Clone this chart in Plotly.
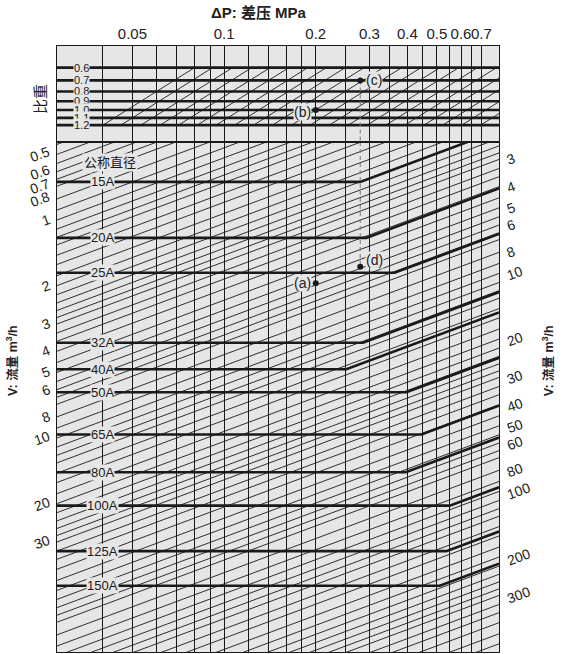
import math
import plotly.graph_objects as go

# ---------------- data ----------------
dp_grid = [0.04, 0.05, 0.06, 0.07, 0.08, 0.09, 0.1, 0.12, 0.14, 0.16, 0.18, 0.2,
           0.25, 0.3, 0.35, 0.4, 0.45, 0.5, 0.55, 0.6, 0.65, 0.7]
dp_tick_text = ["", "0.05", "", "", "", "", "0.1", "", "", "", "", "0.2",
                "", "0.3", "", "0.4", "", "0.5", "", "0.6", "", "0.7"]

sg_values = [0.6, 0.7, 0.8, 0.9, 1.0, 1.1, 1.2]
sg_text = ["0.6", "0.7", "0.8", "0.9", "1.0", "1.1", "1.2"]

# ΔP·SG products of the hatch lines in the specific-gravity panel
hatch_products = [0.048, 0.055, 0.064, 0.074, 0.085, 0.098, 0.113, 0.13, 0.15, 0.173,
                  0.2, 0.23, 0.266, 0.307, 0.354, 0.408, 0.471, 0.544, 0.627, 0.724,
                  0.835, 0.964]

pipe_names = ["15A", "20A", "25A", "32A", "40A", "50A", "65A", "80A", "100A", "125A", "150A"]
pipe_flow_ref = [1.29, 2.33, 3.37, 7.05, 9.33, 11.9, 18.6, 27.7, 39.4, 63.7, 91.8]   # m3/h at 0.1 MPa
pipe_bend_dp = [0.28, 0.293, 0.363, 0.286, 0.252, 0.397, 0.445, 0.395, 0.551, 0.537, 0.511]

flow_mantissa = [1.0, 1.1, 1.2, 1.3, 1.45, 1.6, 1.8, 2.0, 2.2, 2.4, 2.6, 2.8, 3.0,
                 3.3, 3.6, 4.0, 4.5, 5.0, 5.5, 6.0, 6.5, 7.0, 8.0, 9.0]
flow_decades = [0.1, 1, 10, 100]

flow_left_ticks = [0.5, 0.6, 0.7, 0.8, 1, 2, 3, 4, 5, 6, 8, 10, 20, 30]
flow_right_ticks = [3, 4, 5, 6, 8, 10, 20, 30, 40, 50, 60, 80, 100, 200, 300]

ex_flow = 5.4
ex_dp_ab = 0.2
ex_dp_cd = 0.28
ex_sg_b = 1.0
ex_sg_c = 0.7

# ---------------- scales ----------------
DP_REF = 0.1
EXP = 0.52
X_RANGE = [-1.5487, -0.0971]
Y_LOW_RANGE = [2.267, -0.0725]
Y_UP_RANGE = [0.1675, -0.3351]
dp_min, dp_max = 10 ** X_RANGE[0], 10 ** X_RANGE[1]


def q_of(v, dp):
    return v * (DP_REF / dp) ** EXP


BG = "#e6e6e6"
FONT = "Liberation Sans, Arial, Noto Sans CJK SC"
INK = "#1a1a1a"

fig = go.Figure()

# iso-flow lines
flow_lines = [m * d for d in flow_decades for m in flow_mantissa]
xs, ys = [], []
for v in flow_lines:
    xs += [dp_min, dp_max, None]
    ys += [q_of(v, dp_min), q_of(v, dp_max), None]
fig.add_trace(go.Scatter(x=xs, y=ys, mode="lines", line=dict(color=INK, width=0.9),
                         xaxis="x", yaxis="y", hoverinfo="skip", showlegend=False))

# pipe-size lines
xs, ys = [], []
for qp, bd in zip(pipe_flow_ref, pipe_bend_dp):
    xs += [dp_min, bd, dp_max, None]
    ys += [qp, qp, qp * (bd / dp_max) ** EXP, None]
fig.add_trace(go.Scatter(x=xs, y=ys, mode="lines", line=dict(color=INK, width=2.6),
                         xaxis="x", yaxis="y", hoverinfo="skip", showlegend=False))

# hatch lines in SG panel
xs, ys = [], []
for c in hatch_products:
    xs += [c / max(sg_values), c / min(sg_values), None]
    ys += [max(sg_values), min(sg_values), None]
fig.add_trace(go.Scatter(x=xs, y=ys, mode="lines", line=dict(color=INK, width=0.9),
                         xaxis="x2", yaxis="y2", hoverinfo="skip", showlegend=False))

# SG lines
xs, ys = [], []
for sg in sg_values:
    xs += [dp_min, dp_max, None]
    ys += [sg, sg, None]
fig.add_trace(go.Scatter(x=xs, y=ys, mode="lines", line=dict(color=INK, width=2.6),
                         xaxis="x2", yaxis="y2", hoverinfo="skip", showlegend=False))

# dashed connector (c) -> (d)
fig.add_trace(go.Scatter(x=[ex_dp_cd, ex_dp_cd], y=[ex_sg_c, 10 ** Y_UP_RANGE[0]], mode="lines",
                         line=dict(color="#777", width=1, dash="4px,3px"),
                         xaxis="x2", yaxis="y2", hoverinfo="skip", showlegend=False))
fig.add_trace(go.Scatter(x=[ex_dp_cd, ex_dp_cd], y=[10 ** Y_LOW_RANGE[1], q_of(ex_flow, ex_dp_cd)],
                         mode="lines", line=dict(color="#777", width=1, dash="4px,3px"),
                         xaxis="x", yaxis="y", hoverinfo="skip", showlegend=False))

# example points
fig.add_trace(go.Scatter(x=[ex_dp_ab, ex_dp_cd], y=[q_of(ex_flow, ex_dp_ab), q_of(ex_flow, ex_dp_cd)],
                         mode="markers", marker=dict(color=INK, size=6),
                         xaxis="x", yaxis="y", hoverinfo="skip", showlegend=False))
fig.add_trace(go.Scatter(x=[ex_dp_ab, ex_dp_cd], y=[ex_sg_b, ex_sg_c],
                         mode="markers", marker=dict(color=INK, size=6),
                         xaxis="x2", yaxis="y2", hoverinfo="skip", showlegend=False))

ann = []
L = math.log10

# pipe labels
for name, qp in zip(pipe_names, pipe_flow_ref):
    ann.append(dict(x=L(0.04), y=L(qp), xref="x", yref="y", text=name, showarrow=False,
                    xanchor="center", yanchor="middle",
                    font=dict(family=FONT, size=13, color=INK), bgcolor=BG, borderpad=0))
ann.append(dict(x=L(0.0421), y=L(1.053), xref="x", yref="y", text="公称直径", showarrow=False,
                xanchor="center", yanchor="middle",
                font=dict(family=FONT, size=13, color=INK), bgcolor=BG, borderpad=1))

# SG labels
for sg, t in zip(sg_values, sg_text):
    ann.append(dict(x=L(0.034), y=L(sg), xref="x2", yref="y2", text=t, showarrow=False,
                    xanchor="center", yanchor="middle",
                    font=dict(family=FONT, size=11, color=INK), bgcolor=BG, borderpad=0))

# flow labels left / right
for v in flow_left_ticks:
    ann.append(dict(x=X_RANGE[0], y=L(q_of(v, dp_min)), xref="x", yref="y", text=f"{v:g}",
                    showarrow=False, xanchor="right", yanchor="middle", xshift=-2, textangle=-20,
                    font=dict(family=FONT, size=14, color="#222")))
for v in flow_right_ticks:
    ann.append(dict(x=X_RANGE[1], y=L(q_of(v, dp_max)), xref="x", yref="y", text=f"{v:g}",
                    showarrow=False, xanchor="left", yanchor="middle", xshift=3, textangle=-20,
                    font=dict(family=FONT, size=14, color="#222")))

# example labels
lab_font = dict(family=FONT, size=14, color="#222")
ann.append(dict(x=L(ex_dp_ab), y=L(q_of(ex_flow, ex_dp_ab)), xref="x", yref="y", text="(a)",
                showarrow=False, xanchor="right", yanchor="middle", xshift=-4,
                font=lab_font, bgcolor=BG, borderpad=0))
ann.append(dict(x=L(ex_dp_ab), y=L(ex_sg_b), xref="x2", yref="y2", text="(b)",
                showarrow=False, xanchor="right", yanchor="middle", xshift=-4, yshift=-2,
                font=lab_font, bgcolor=BG, borderpad=0))
ann.append(dict(x=L(ex_dp_cd), y=L(ex_sg_c), xref="x2", yref="y2", text="(c)",
                showarrow=False, xanchor="left", yanchor="middle", xshift=5,
                font=lab_font, bgcolor=BG, borderpad=0))
ann.append(dict(x=L(ex_dp_cd), y=L(q_of(ex_flow, ex_dp_cd)), xref="x", yref="y", text="(d)",
                showarrow=False, xanchor="left", yanchor="middle", xshift=5, yshift=7,
                font=lab_font, bgcolor=BG, borderpad=0))

# titles
ann.append(dict(x=0.457, y=1.0545, xref="paper", yref="paper", text="<b>ΔP: 差压 MPa</b>",
                showarrow=False, xanchor="center", yanchor="middle",
                font=dict(family=FONT, size=15, color="#222")))
ann.append(dict(x=-0.1018, y=0.48, xref="paper", yref="paper", text="<b>V: 流量 m<sup>3</sup>/h</b>",
                showarrow=False, xanchor="center", yanchor="middle", textangle=-90,
                font=dict(family=FONT, size=12.5, color="#222")))
ann.append(dict(x=1.111, y=0.48, xref="paper", yref="paper", text="<b>V: 流量 m<sup>3</sup>/h</b>",
                showarrow=False, xanchor="center", yanchor="middle", textangle=-90,
                font=dict(family=FONT, size=12.5, color="#222")))
ann.append(dict(x=-0.0385, y=0.9125, xref="paper", yref="paper", text="比重",
                showarrow=False, xanchor="center", yanchor="middle", textangle=-90,
                font=dict(family=FONT, size=15, color="#222")))

axis_common = dict(type="log", range=X_RANGE, tickvals=dp_grid, showgrid=True,
                   gridcolor=INK, gridwidth=1, showline=True, mirror=True,
                   linecolor=INK, linewidth=1.3, ticks="", zeroline=False)

fig.update_layout(
    width=562, height=654,
    margin=dict(l=57, r=63, t=46, b=2),
    paper_bgcolor="white", plot_bgcolor=BG,
    showlegend=False,
    xaxis=dict(**axis_common, anchor="y", showticklabels=False),
    xaxis2=dict(**axis_common, anchor="y2", matches="x", side="top", ticktext=dp_tick_text,
                showticklabels=True, tickangle=0,
                tickfont=dict(family=FONT, size=15, color="#222")),
    yaxis=dict(type="log", range=Y_LOW_RANGE, domain=[0, 0.8416], showgrid=False,
               showline=True, mirror=True, linecolor=INK, linewidth=1.3,
               showticklabels=False, ticks="", zeroline=False),
    yaxis2=dict(type="log", range=Y_UP_RANGE, domain=[0.8416, 1], showgrid=False,
                showline=True, mirror=True, linecolor=INK, linewidth=1.3,
                showticklabels=False, ticks="", zeroline=False),
    annotations=ann,
)

fig.write_html("out.html")
